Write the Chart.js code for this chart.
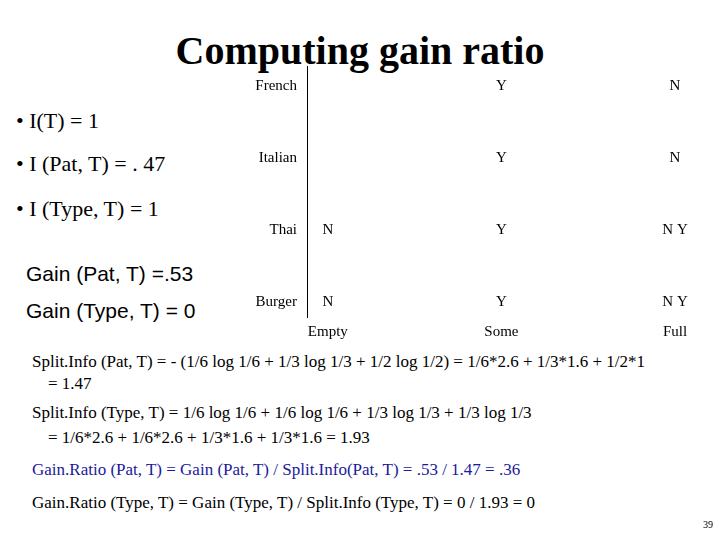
<!DOCTYPE html>
<html>
<head>
<meta charset="utf-8">
<script src="https://cdn.jsdelivr.net/npm/chart.js@4"></script>
<style>
  body { margin: 0; width: 720px; height: 540px; background: #fff; position: relative; overflow: hidden; font-family: "Liberation Serif", serif; color: #000; }
  .t { position: absolute; white-space: nowrap; }
  #title { left: 0; width: 720px; top: 27px; text-align: center; font-size: 40px; font-weight: bold; }
  .b { font-size: 22px; left: 16px; }
  .g { font-family: "Liberation Sans", sans-serif; font-size: 21px; left: 26px; }
  .s { font-size: 17px; }
  #wrap { position: absolute; left: 230px; top: 47px; width: 470px; height: 295px; }
</style>
</head>
<body>
<div class="t" id="title">Computing gain ratio</div>
<div class="t b" style="top:108px">• I(T) = 1</div>
<div class="t b" style="top:151px">• I (Pat, T) = . 47</div>
<div class="t b" style="top:196px">• I (Type, T) = 1</div>
<div class="t g" style="top:262px">Gain (Pat, T) =.53</div>
<div class="t g" style="top:299px">Gain (Type, T) = 0</div>
<div id="wrap"><canvas id="chart"></canvas></div>
<div class="t s" style="left:32px;top:352px">Split.Info (Pat, T) = - (1/6 log 1/6 + 1/3 log 1/3 + 1/2 log 1/2) = 1/6*2.6 + 1/3*1.6 + 1/2*1</div>
<div class="t s" style="left:48px;top:374px">= 1.47</div>
<div class="t s" style="left:32px;top:403px">Split.Info (Type, T) = 1/6 log 1/6 + 1/6 log 1/6 + 1/3 log 1/3 + 1/3 log 1/3</div>
<div class="t s" style="left:48px;top:428px">= 1/6*2.6 + 1/6*2.6 + 1/3*1.6 + 1/3*1.6 = 1.93</div>
<div class="t s" style="left:32px;top:460px;color:#1a1a9c">Gain.Ratio (Pat, T) = Gain (Pat, T) / Split.Info(Pat, T) = .53 / 1.47 = .36</div>
<div class="t s" style="left:32px;top:493px">Gain.Ratio (Type, T) = Gain (Type, T) / Split.Info (Type, T) = 0 / 1.93 = 0</div>
<div class="t" style="left:703px;top:519px;font-size:10px">39</div>
<script>
const patrons = ["Empty", "Some", "Full"];
const types = ["Burger", "Thai", "Italian", "French"];
// each cell: [patrons index, type index, label]
const cells = [
  [1, 3, "Y"], [2, 3, "N"],
  [1, 2, "Y"], [2, 2, "N"],
  [0, 1, "N"], [1, 1, "Y"], [2, 1, "N Y"],
  [0, 0, "N"], [1, 0, "Y"], [2, 0, "N Y"]
];

const textMarks = {
  id: "textMarks",
  afterDatasetsDraw(chart) {
    const ctx = chart.ctx;
    const meta = chart.getDatasetMeta(0);
    ctx.save();
    ctx.font = '15px "Liberation Serif"';
    ctx.fillStyle = "#000";
    ctx.textAlign = "center";
    ctx.textBaseline = "middle";
    meta.data.forEach((pt, i) => {
      ctx.fillText(chart.data.datasets[0].data[i].t, pt.x, pt.y);
    });
    ctx.restore();
  }
};

const fixedTicks = (names) => (s) => { s.ticks = names.map((_, i) => ({ value: i })); };

new Chart(document.getElementById("chart"), {
  type: "scatter",
  data: {
    datasets: [{
      data: cells.map((c) => ({ x: c[0], y: c[1], t: c[2] })),
      pointRadius: 0
    }]
  },
  options: {
    responsive: true,
    maintainAspectRatio: false,
    animation: false,
    layout: { padding: { top: 5, right: 25 } },
    plugins: { legend: { display: false }, tooltip: { enabled: false } },
    scales: {
      x: {
        type: "linear", min: -0.12, max: 2,
        afterFit: (s) => { s.height = 25; },
        afterBuildTicks: fixedTicks(patrons),
        grid: { display: false, drawTicks: false },
        border: { display: false },
        ticks: {
          padding: 6,
          font: { family: "Liberation Serif", size: 15 }, color: "#000",
          callback: (v) => patrons[v] || ""
        }
      },
      y: {
        type: "linear", min: -0.21, max: 3.28,
        afterFit: (s) => { s.width = 77; },
        afterBuildTicks: fixedTicks(types),
        grid: { display: false, drawTicks: false },
        border: { display: true, color: "#000", width: 1 },
        ticks: {
          padding: 10,
          font: { family: "Liberation Serif", size: 15 }, color: "#000",
          callback: (v) => types[v] || ""
        }
      }
    }
  },
  plugins: [textMarks]
});
</script>
</body>
</html>
